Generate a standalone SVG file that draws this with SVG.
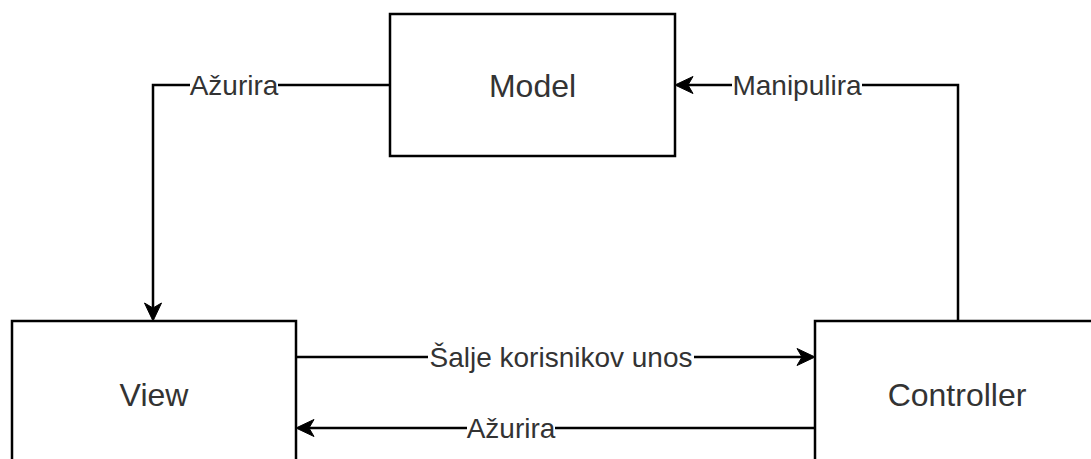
<svg xmlns="http://www.w3.org/2000/svg" width="1091" height="459" viewBox="0 0 1091 459">
  <style>
    .box { fill: #ffffff; stroke: #000000; stroke-width: 2.5; }
    .node-label { font-family: "Liberation Sans", Arial, sans-serif; font-size: 32px; fill: #333333; text-anchor: middle; }
    .edge { fill: none; stroke: #000000; stroke-width: 2.5; }
    .edge-label { font-family: "Liberation Sans", Arial, sans-serif; font-size: 28px; fill: #333333; text-anchor: middle; }
    .label-bg { fill: #ffffff; }
  </style>
  <defs>
    <marker id="arrow" markerUnits="userSpaceOnUse" markerWidth="20" markerHeight="20" viewBox="0 0 20 20" refX="8" refY="10" orient="auto">
      <path d="M19,10 L1,1.5 L6,10 L1,18.5 Z" fill="#000000" stroke="#000000" stroke-width="1"/>
    </marker>
  </defs>
  <rect width="1091" height="459" fill="#ffffff"/>

  <g id="connectors">
    <g id="edge-model-view">
      <path class="edge" d="M390,85 L153,85 L153,310" marker-end="url(#arrow)"/>
      <rect class="label-bg" x="190" y="70" width="88" height="30"/>
      <text class="edge-label" x="234" y="95">Ažurira</text>
    </g>
    <g id="edge-controller-model">
      <path class="edge" d="M958,321 L958,85 L686,85" marker-end="url(#arrow)"/>
      <rect class="label-bg" x="732" y="70" width="130" height="30"/>
      <text class="edge-label" x="797" y="95">Manipulira</text>
    </g>
    <g id="edge-view-controller">
      <path class="edge" d="M296,357 L804,357" marker-end="url(#arrow)"/>
      <rect class="label-bg" x="428" y="342" width="266" height="30"/>
      <text class="edge-label" x="561" y="367">Šalje korisnikov unos</text>
    </g>
    <g id="edge-controller-view">
      <path class="edge" d="M815,428 L307,428" marker-end="url(#arrow)"/>
      <rect class="label-bg" x="467" y="413" width="88" height="30"/>
      <text class="edge-label" x="511" y="438">Ažurira</text>
    </g>
  </g>

  <g id="node-model">
    <rect class="box" x="390" y="14" width="285" height="142"/>
    <text class="node-label" x="532.5" y="97">Model</text>
  </g>
  <g id="node-view">
    <rect class="box" x="12" y="321" width="284" height="142"/>
    <text class="node-label" x="154" y="406">View</text>
  </g>
  <g id="node-controller">
    <rect class="box" x="815" y="321" width="285" height="142"/>
    <text class="node-label" x="957" y="406">Controller</text>
  </g>
</svg>
